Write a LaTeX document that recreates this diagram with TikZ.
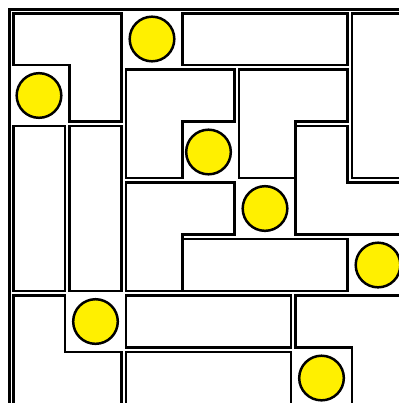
\documentclass[tikz,border=0pt]{standalone}
\usetikzlibrary{positioning}
\definecolor{ballyellow}{HTML}{FFF000}
\tikzset{
  frame/.style={draw=black,line width=1.6pt},
  piece/.style={draw=black,fill=white,line width=1.35pt,line join=miter},
  ball/.style={circle,draw=black,fill=ballyellow,line width=1.25pt,minimum size=0.79cm,inner sep=0pt}
}
\begin{document}
\begin{tikzpicture}[x=1cm,y=-1cm]
\path[use as bounding box,fill=white] (-0.19,-0.19) rectangle (6.854,6.942);
\draw[frame] (-0.025,-0.025) rectangle (7.025,7.025);
% top rows
\draw[piece] (0.045,0.045)--(1.96,0.045)--(1.96,1.96)--(1.045,1.96)--(1.045,0.96)--(0.045,0.96)--cycle;
\draw[piece] (3.04,0.045) rectangle (5.96,0.96);
\draw[piece] (6.04,0.045) rectangle (6.96,2.96);
\draw[piece] (2.04,1.04)--(3.96,1.04)--(3.96,1.96)--(3.04,1.96)--(3.04,2.96)--(2.04,2.96)--cycle;
\draw[piece] (4.04,1.04)--(5.96,1.04)--(5.96,1.96)--(5.04,1.96)--(5.04,2.96)--(4.04,2.96)--cycle;
\draw[piece] (5.04,2.04)--(5.96,2.04)--(5.96,3.04)--(6.96,3.04)--(6.96,3.96)--(5.04,3.96)--cycle;
% middle rows
\draw[piece] (0.045,2.04) rectangle (0.96,4.96);
\draw[piece] (1.04,2.04) rectangle (1.96,4.96);
\draw[piece] (2.04,3.04)--(3.96,3.04)--(3.96,3.96)--(3.04,3.96)--(3.04,4.96)--(2.04,4.96)--cycle;
\draw[piece] (3.04,4.04) rectangle (5.96,4.96);
% bottom rows
\draw[piece] (0.045,5.04)--(0.96,5.04)--(0.96,6.04)--(1.96,6.04)--(1.96,6.96)--(0.045,6.96)--cycle;
\draw[piece] (2.04,5.04) rectangle (4.96,5.96);
\draw[piece] (5.04,5.04)--(6.96,5.04)--(6.96,6.96)--(6.04,6.96)--(6.04,5.96)--(5.04,5.96)--cycle;
\draw[piece] (2.04,6.04) rectangle (4.96,6.96);
% balls
\node[ball] (b0) at (2.5,0.5) {}; \node[ball] (b1) at (0.5,1.5) {}; \node[ball] (b2) at (3.5,2.5) {};
\node[ball] (b3) at (4.5,3.5) {}; \node[ball] (b4) at (6.5,4.5) {}; \node[ball] (b5) at (1.5,5.5) {};
\node[ball] (b6) at (5.5,6.5) {};
\end{tikzpicture}
\end{document}
